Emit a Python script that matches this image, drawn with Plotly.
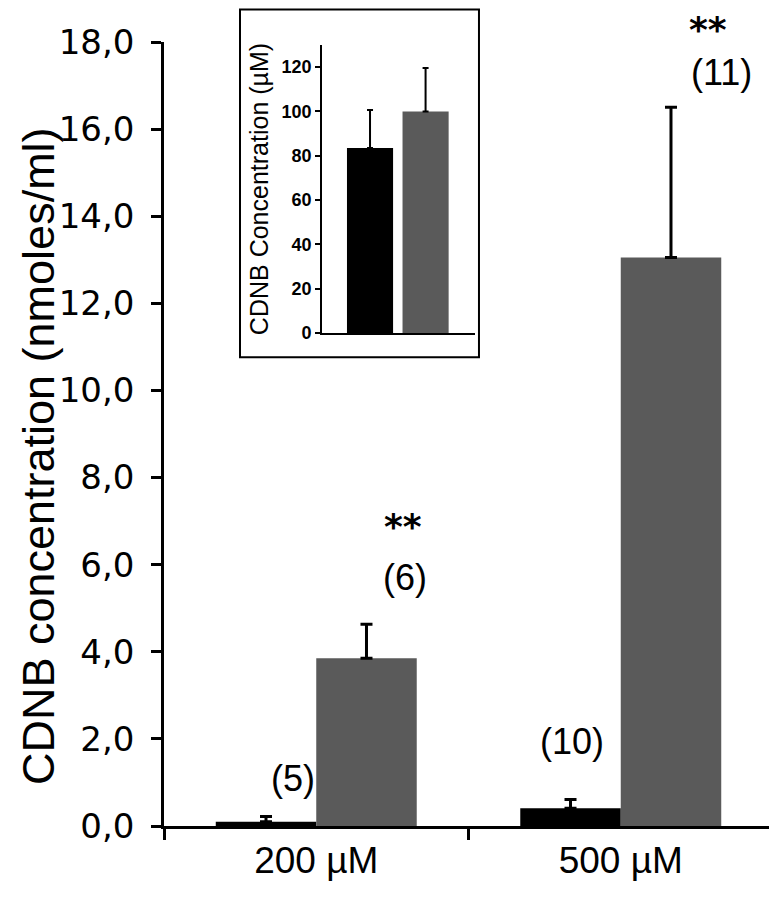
import plotly.graph_objects as go

# ---- data ----
categories = ["200 µM", "500 µM"]
control_means = [0.10, 0.41]
control_err = [0.12, 0.20]
treated_means = [3.85, 13.05]
treated_err = [0.78, 3.45]
n_control = ["(5)", "(10)"]
n_treated = ["(6)", "(11)"]
significance = ["**", "**"]

inset_categories = ["control", "treated"]
inset_means = [83.5, 100.0]
inset_err = [17.2, 19.6]

# ---- styles ----
BLACK = "#000000"
GRAY = "#5a5a5a"
TXT = "Liberation Sans Narrow, Liberation Sans, Arial, sans-serif"
TICK = "DejaVu Sans, Verdana, sans-serif"
Y_MAX = 18
PLOT_TOP_PX = 34
PLOT_H_PX = 784

fig = go.Figure()

fig.add_trace(go.Bar(
    x=categories, y=control_means, marker=dict(color=BLACK, line=dict(width=0)),
    error_y=dict(type="data", array=control_err, symmetric=False,
                 arrayminus=[0] * len(control_err), color=BLACK, thickness=3, width=6),
    showlegend=False,
))
fig.add_trace(go.Bar(
    x=categories, y=treated_means, marker=dict(color=GRAY, line=dict(width=0)),
    error_y=dict(type="data", array=treated_err, symmetric=False,
                 arrayminus=[0] * len(treated_err), color=BLACK, thickness=3, width=6),
    showlegend=False,
))

# inset
fig.add_trace(go.Bar(
    x=inset_categories, y=inset_means, xaxis="x2", yaxis="y2", width=0.83,
    marker=dict(color=[BLACK, GRAY], line=dict(width=0)),
    error_y=dict(type="data", array=inset_err, symmetric=False,
                 arrayminus=[0, 0], color=BLACK, thickness=2, width=3),
    showlegend=False,
))

# text label positions (x in category index units, y in data units)
n_ctrl_pos = [(-0.076, 1.1), (0.84, 1.93)]
n_trt_pos = [(0.29, 5.7), (1.33, 17.3)]
sig_x = [0.285, 1.285]
sig_y = [6.87 / Y_MAX, 1 + PLOT_TOP_PX / PLOT_H_PX]   # second one pinned to figure top
sig_anchor = ["middle", "top"]

annotations = []
for (x, y), t in zip(n_ctrl_pos + n_trt_pos, n_control + n_treated):
    annotations.append(dict(x=x, y=y / Y_MAX, xref="x", yref="paper", text=t, showarrow=False,
                            xanchor="center", yanchor="middle",
                            font=dict(family=TXT, size=36, color=BLACK)))
for x, y, a, t in zip(sig_x, sig_y, sig_anchor, significance):
    annotations.append(dict(x=x, y=y, xref="x", yref="paper", text="<b>" + t + "</b>",
                            showarrow=False, xanchor="center", yanchor=a, borderpad=0,
                            font=dict(family="DejaVu Sans, sans-serif", size=36, color=BLACK)))

# y-axis title as a rotated annotation
annotations.append(dict(text="CDNB concentration (nmoles/ml)", textangle=-90,
                        x=-0.205, y=0.472, xref="paper", yref="paper",
                        xanchor="center", yanchor="middle", showarrow=False, borderpad=0,
                        font=dict(family=TXT, size=45, color=BLACK)))

fig.update_layout(
    width=769, height=891,
    margin=dict(l=156, r=4, t=PLOT_TOP_PX, b=73, autoexpand=False),
    paper_bgcolor="white", plot_bgcolor="white",
    barmode="group", bargap=0.34, bargroupgap=0,
    separators=",.",
    annotations=annotations,
    xaxis=dict(
        type="category", range=[-0.5, 1.5], showline=True, linecolor=BLACK, linewidth=2.5,
        ticks="outside", tickson="boundaries", ticklen=11, tickwidth=2.5, tickcolor=BLACK,
        tickfont=dict(family=TXT, size=37, color=BLACK), showgrid=False, zeroline=False,
        fixedrange=True,
    ),
    yaxis=dict(
        range=[0, Y_MAX], dtick=2, tickformat=".1f", showline=True, linecolor=BLACK, linewidth=2.5,
        ticks="outside", ticklen=10, tickwidth=2.5, tickcolor=BLACK, ticklabelstandoff=10,
        tickfont=dict(family=TICK, size=34, color=BLACK), showgrid=False, zeroline=False,
    ),
    xaxis2=dict(
        domain=[0.2594, 0.5107], anchor="y2", type="category", range=[-0.865, 1.89],
        showline=True, linecolor=BLACK, linewidth=1.5, ticks="", showticklabels=False,
        showgrid=False, zeroline=False,
    ),
    yaxis2=dict(
        domain=[0.6288, 0.9962], anchor="x2", range=[0, 130], dtick=20,
        showline=True, linecolor=BLACK, linewidth=1.5, ticks="outside", ticklen=5,
        tickwidth=1.5, tickcolor=BLACK, showgrid=False, zeroline=False,
        tickfont=dict(family="Liberation Sans, Arial, sans-serif", size=18, color=BLACK,
                      weight="bold"),
        title=dict(text="CDNB Concentration (µM)", standoff=6,
                   font=dict(family=TXT, size=25, color=BLACK)),
    ),
    shapes=[dict(type="rect", xref="paper", yref="paper",
                 x0=0.1248, x1=0.5172, y0=0.598, y1=1.0414,
                 line=dict(color=BLACK, width=2))],
)

fig.write_html("out.html")
